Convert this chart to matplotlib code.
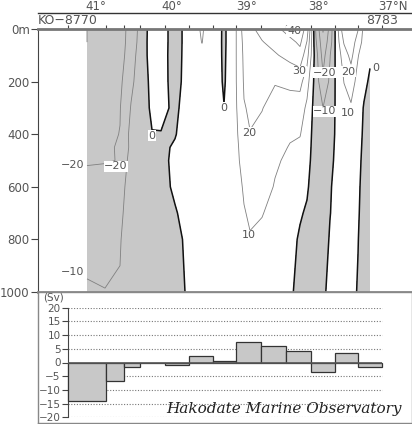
import numpy as np
import matplotlib
matplotlib.use('Agg')
import matplotlib.pyplot as plt
from matplotlib.lines import Line2D

plt.rcParams['contour.negative_linestyle'] = 'solid'

# ---------------- data ----------------
# station positions along the section (distance units)
station_pos = [0, 38, 56, 72, 97, 121, 145, 168, 193, 218, 243, 267, 290, 314]
station_first = 'KO−8770'
station_last = '8783'
# volume transport between station pairs (Sv)
transport = [-14.1, -6.9, -1.5, -0.3, -0.9, 2.2, 0.4, 7.6, 6.1, 4.3, -3.3, 3.4, -1.7]

lat_labels = ['41°', '40°', '39°', '38°', '37°N']
lat_pos = [28, 104, 179, 250, 325]

depth_ticks = [0, 200, 400, 600, 800, 1000]
depth_labels = ['0m', '200', '400', '600', '800', '1000']
sv_ticks = [20, 15, 10, 5, 0, -5, -10, -15, -20]

# geostrophic velocity (cm/s) : columns at positions vel_x, rows at depths
depths = [0, 50, 100, 200, 300, 400, 450, 500, 600, 700, 800, 1000]
vel_x = [19, 37, 52, 63, 73, 84, 93, 107, 122, 134, 142, 150, 156, 162, 169,
         176, 182, 194, 207, 222, 232, 239, 248, 255, 262, 269, 276, 283, 290, 296, 302]
vel_cols = [
    [-30, -30, -29, -27, -25, -23, -22, -20.6, -17.5, -15, -13, -9],
    [-29, -29, -28, -26.5, -24.5, -22, -21, -20.4, -17, -14.5, -12.5, -9.8],
    [-23.1, -23.5, -24, -22, -20.4, -19.8, -19.4, -19.8, -14, -12, -10.5, -9.5],
    [-17.3, -16.5, -14.5, -12, -9.5, -7.1, -7.5, -5, -5, -5, -5.5, -6],
    [-6, -5.5, -5, -5, -3, -3, -4, -4.5, -4, -4, -4.5, -5],
    [4.5, 4.5, 4, 2.5, 1, -0.2, -2.5, -2.5, -3, -3, -3.5, -4],
    [3, 3, 2.8, 2.5, 2, -0.3, -1, -1.2, -2, -2.5, -3, -3.5],
    [-3, -3, -3, -2.5, -1.5, -0.3, 0.56, 1, 1, -0.5, -1.5, -2],
    [3.4, 3.4, 3.6, 3.5, 4.1, 3, 3, 3, 3, 2.5, 1.5, 1],
    [11.5, 10.3, 7, 6, 5.5, 5, 5, 4.5, 4, 3.5, 3, 2],
    [4, 4, 4, 4, 4.5, 4.5, 4.5, 4.5, 4, 3.5, 3, 2],
    [4.8, 4.5, 4, 3.5, 4, 4.5, 4.5, 4.5, 4, 3.5, 3, 2],
    [-3, -3, -2.5, -1.5, 0.3, 1.5, 2, 2.5, 3, 3, 3, 2],
    [6, 6, 6, 5.5, 5, 5, 5, 5, 4.5, 4, 3.5, 2.5],
    [10.5, 10.5, 10.5, 10.5, 10.2, 9.3, 8.5, 8, 7, 6.5, 6, 4],
    [25, 23, 22, 21, 19.5, 16, 15, 14, 11, 9.5, 8, 5],
    [28, 27, 26, 23, 21, 19.8, 18.5, 17, 14, 11, 9.5, 6],
    [33, 29.5, 27, 23, 20.3, 18, 17, 16, 13, 10.3, 8.5, 5],
    [37, 33, 29, 20.5, 17, 14, 12.5, 11, 9.5, 8, 7, 4.5],
    [45, 37, 33, 22, 16, 11, 9.5, 8.5, 6, 4, 2.5, 1],
    [46, 42, 36, 23, 15, 10.5, 8, 6, 3, 0.8, -1, -2],
    [36, 29.5, 24, 14, 8, 5, 4, 3, 1, -1, -2, -2.5],
    [-12, -9, -6, -5, -5, -5, -5, -5, -5, -5, -4.5, -4],
    [-31, -27, -24, -18, -9.9, -8, -7.5, -7, -6, -5.5, -5, -2],
    [-17, -15, -10.5, -8, -5, -4, -3.5, -3, -1, -0.3, 1, 3],
    [6.5, 5.5, 4, 3, 2, 2, 2.5, 3, 3.5, 3.5, 3.5, 3.5],
    [28, 21, 15, 10.2, 7, 5, 4.5, 4, 3.5, 3, 2.5, 2],
    [27, 25, 23, 14, 9, 6, 5, 4.5, 3.5, 3, 2.5, 2],
    [20.5, 16, 10.5, 7, 5, 3.5, 3, 2.5, 1.5, 0.8, 0.2, -0.5],
    [7, 6, 5, 2.5, -0.8, -1.5, -2, -2.5, -3, -3, -3, -3],
    [4, 3, 1.5, -1.5, -2.5, -3, -3, -3, -3.5, -3.5, -3.5, -3.5],
]
line_levels = [-30, -20, -10, 10, 20, 30, 40]

# contour label annotations: (text, x, depth)
contour_labels = [
    ('0', 84, 405), ('−20', 48, 522), ('0', 156, 300), ('20', 181, 395),
    ('10', 181, 785), ('30', 231, 160), ('40', 226, 8), ('−20', 257, 167),
    ('−10', 257, 312), ('20', 280, 163), ('10', 280, 319), ('0', 308, 148),
]
edge_labels = [('−20', 5, 517), ('−10', 5, 925)]

# ---------------- figure ----------------
W, H = 412, 424
fig = plt.figure(figsize=(W / 100, H / 100), dpi=100)
fig.patch.set_facecolor('white')
tc = '#555555'

def fbox(x0, y0, x1, y1):
    return [x0 / W, 1 - y1 / H, (x1 - x0) / W, (y1 - y0) / H]

# section panel
ax = fig.add_axes(fbox(38, 29, 412, 292))
ax.set_xlim(-30, 344)
ax.set_ylim(1000, 0)
Z = np.array(vel_cols).T
ax.contourf(vel_x, depths, Z, levels=[-100, 0], colors=['#c8c8c8'])
ax.contour(vel_x, depths, Z, levels=line_levels, colors='#808080', linewidths=0.6,
           linestyles='solid')
ax.contour(vel_x, depths, Z, levels=[0], colors='#111111', linewidths=1.1)

for t, x, d in contour_labels:
    ax.text(x, d, t, ha='center', va='center', fontsize=8, color=tc,
            bbox=dict(boxstyle='square,pad=0.05', fc='white', ec='none'), zorder=5)
for t, x, d in edge_labels:
    ax.text(x, d, t, ha='center', va='center', fontsize=8, color=tc, zorder=5)

ax.spines['right'].set_visible(False)
ax.spines['top'].set_color('#777777')
ax.spines['top'].set_linewidth(2)
ax.spines['top'].set_zorder(6)
ax.spines['bottom'].set_color('#888888')
ax.spines['bottom'].set_linewidth(2)
ax.spines['left'].set_color('#444444')
ax.spines['left'].set_linewidth(0.8)
ax.set_yticks(depth_ticks)
ax.set_yticklabels(depth_labels)
ax.tick_params(axis='y', direction='out', length=5, width=0.8, color='#444444',
               labelsize=8.5, labelcolor=tc, pad=1)
ax.set_xticks(station_pos)
ax.tick_params(axis='x', top=True, bottom=False, labeltop=False, labelbottom=False,
               direction='out', length=3, width=0.8, color='#444444')

xt = ax.get_xaxis_transform()
for t, x in zip(lat_labels, lat_pos):
    ax.text(x, (292 - 7) / 263, t, transform=xt, ha='center', va='center',
            fontsize=8.5, color=tc, clip_on=False)
ax.add_line(Line2D([0, 1], [(292 - 13) / 263] * 2, transform=ax.transAxes,
                   color='#333333', lw=1, clip_on=False))
ax.text(station_pos[0], (292 - 21) / 263, station_first, transform=xt, ha='center',
        va='center', fontsize=9, color=tc, clip_on=False)
ax.text(station_pos[-1], (292 - 21) / 263, station_last, transform=xt, ha='center',
        va='center', fontsize=9, color=tc, clip_on=False)

# transport panel frame
fr = fig.add_axes(fbox(38, 292, 411.5, 423))
fr.set_xticks([])
fr.set_yticks([])
for s in fr.spines.values():
    s.set_color('#888888')
    s.set_linewidth(1)
fr.set_zorder(0)

bx = fig.add_axes(fbox(38, 307.7, 412, 417.3))
bx.set_zorder(1)
bx.patch.set_visible(False)
bx.set_xlim(-30, 344)
bx.set_ylim(-20, 20)
for s in ['top', 'right', 'bottom']:
    bx.spines[s].set_visible(False)
bx.spines['left'].set_position(('data', 0))
bx.spines['left'].set_color('#444444')
bx.spines['left'].set_linewidth(0.8)
bx.set_xticks([])
bx.set_yticks(sv_ticks)
bx.set_yticklabels([str(v).replace('-', '−') for v in sv_ticks])
bx.tick_params(axis='y', direction='out', length=4.3, width=0.8, color='#444444',
               labelsize=7.5, labelcolor=tc, pad=1)
grid_vals = [v for v in sv_ticks if v != 0]
bx.hlines(grid_vals, station_pos[0], station_pos[-1], colors='#777777',
          linestyles=(0, (1, 1.5)), linewidth=0.8, zorder=1)
bx.bar(station_pos[:-1], transport, width=np.diff(station_pos), align='edge',
       color='#c8c8c8', edgecolor='#333333', linewidth=0.9, zorder=3)
bx.hlines(0, station_pos[0], station_pos[-1], colors='#555555', linewidth=1.2, zorder=4)

fig.text(53 / W, 1 - 297 / H, '(Sv)', ha='center', va='center', fontsize=7.5, color=tc)
fig.text(284 / W, 1 - 409 / H, 'Hakodate Marine Observatory', ha='center', va='center',
         fontsize=11, family='DejaVu Serif', style='italic', color='#222222')

fig.savefig('out.png', dpi=100)
